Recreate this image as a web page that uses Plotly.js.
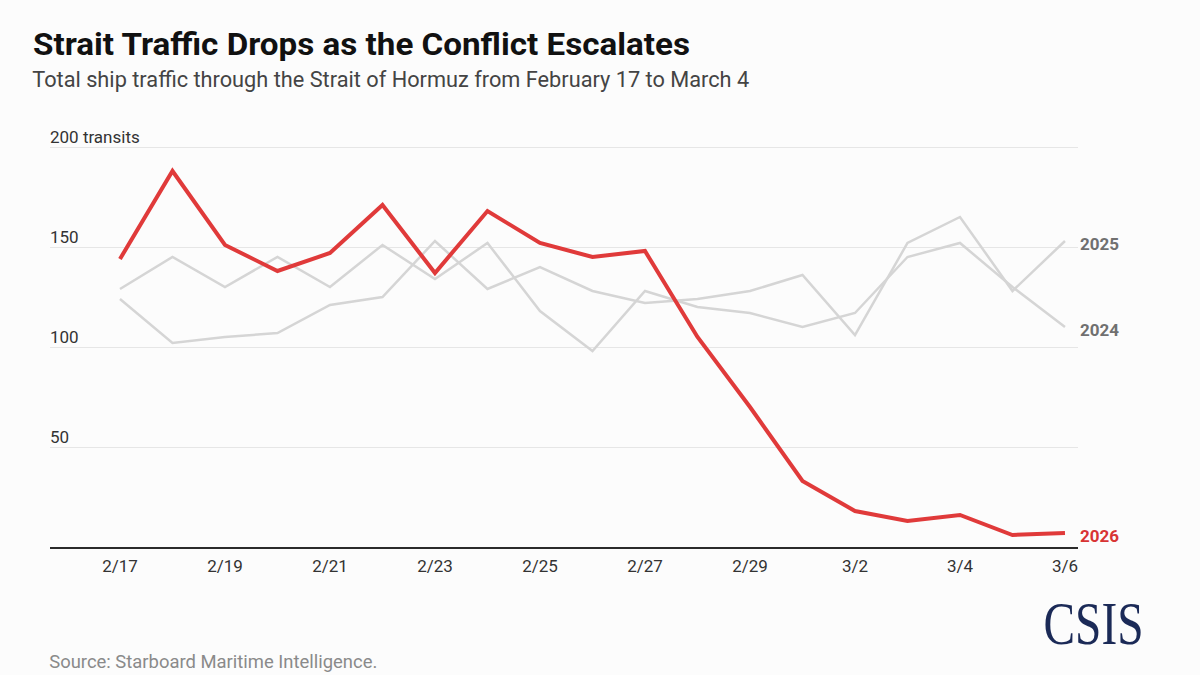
<!DOCTYPE html>
<html>
<head>
<meta charset="utf-8">
<script src="https://cdn.plot.ly/plotly-3.0.1.min.js"></script>
<style>
  html, body { margin: 0; padding: 0; background: #fcfcfc; }
  #chart { width: 1200px; height: 675px; }
</style>
</head>
<body>
<div id="chart"></div>
<script>
// Daily transits through the Strait of Hormuz, Feb 17 – Mar 6
const dates = ['2/17','2/18','2/19','2/20','2/21','2/22','2/23','2/24','2/25','2/26','2/27','2/28','2/29',
               '3/1','3/2','3/3','3/4','3/5','3/6'];
const tickDates = ['2/17','2/19','2/21','2/23','2/25','2/27','2/29','3/2','3/4','3/6'];
const transits2024 = [129, 145, 130, 145, 130, 151, 134, 152, 118, 98, 128, 120, 117, 110, 117, 145, 152, 130, 110];
const transits2025 = [124, 102, 105, 107, 121, 125, 153, 129, 140, 128, 122, 124, 128, 136, 106, 152, 165, 128, 153];
const transits2026 = [144, 188, 151, 138, 147, 171, 137, 168, 152, 145, 148, 105, 70, 33, 18, 13, 16, 6, 7];
const yTicks = [50, 100, 150, 200];
const yTickText = ['50', '100', '150', '200 transits'];

const RED = '#e03a3a';
const GREY = '#d5d5d5';
const SANS = 'Roboto, sans-serif';

const traces = [
  { x: dates, y: transits2024, name: '2024', type: 'scatter', mode: 'lines',
    line: { color: GREY, width: 2.5 }, hoverinfo: 'skip' },
  { x: dates, y: transits2025, name: '2025', type: 'scatter', mode: 'lines',
    line: { color: GREY, width: 2.5 }, hoverinfo: 'skip' },
  { x: dates, y: transits2026, name: '2026', type: 'scatter', mode: 'lines',
    line: { color: RED, width: 4 }, hoverinfo: 'skip' }
];

const last = dates[dates.length - 1];
function endLabel(txt, yVal, color) {
  return { x: last, y: yVal, xref: 'x', yref: 'y', text: '<b>' + txt + '</b>',
           showarrow: false, xanchor: 'left', yanchor: 'middle', xshift: 13, yshift: -3,
           font: { family: SANS, size: 17, color: color } };
}

// y-axis labels sit just above their gridlines, flush with the left edge
const yLabels = yTicks.map((v, i) => ({
  x: 0, y: v, xref: 'paper', yref: 'y', text: yTickText[i],
  showarrow: false, xanchor: 'left', yanchor: 'bottom', xshift: -2, yshift: -2,
  font: { family: SANS, size: 17, color: '#333333' }
}));

const layout = {
  width: 1200, height: 675,
  paper_bgcolor: '#fcfcfc', plot_bgcolor: '#fcfcfc',
  margin: { l: 50, r: 122, t: 127, b: 128 },
  showlegend: false,
  title: {
    text: '<b>Strait Traffic Drops as the Conflict Escalates</b>',
    x: 33 / 1200, xanchor: 'left', xref: 'container',
    y: 1 - 44 / 675, yanchor: 'middle', yref: 'container',
    font: { family: SANS, size: 31, color: '#111111' }
  },
  xaxis: {
    type: 'category',
    range: [-1.333, 18.248],
    tickmode: 'array', tickvals: tickDates, ticktext: tickDates,
    ticks: '', showgrid: false, zeroline: false,
    showline: true, linecolor: '#2b2b2b', linewidth: 1.5,
    ticklabelstandoff: 3,
    tickfont: { family: SANS, size: 17, color: '#333333' },
    fixedrange: true
  },
  yaxis: {
    range: [0, 210],
    tickmode: 'array', tickvals: yTicks,
    showticklabels: false,
    ticks: '', showgrid: true, gridcolor: '#e6e6e6', gridwidth: 1,
    zeroline: false, showline: false,
    fixedrange: true
  },
  annotations: [
    { xref: 'paper', yref: 'paper', x: (33 - 50) / 1028, y: (547.3 - 80) / 420,
      xanchor: 'left', yanchor: 'middle', showarrow: false, xshift: -7,
      text: 'Total ship traffic through the Strait of Hormuz from February 17 to March 4',
      font: { family: SANS, size: 22, color: '#444444' } },
    { xref: 'paper', yref: 'paper', x: 0, y: (547.3 - 662) / 420,
      xanchor: 'left', yanchor: 'middle', showarrow: false, xshift: 1,
      text: 'Source: Starboard Maritime Intelligence.',
      font: { family: SANS, size: 18, color: '#8a8a8a' } },
    { xref: 'paper', yref: 'paper', x: (1093 - 50) / 1028, y: (547.3 - 623) / 420,
      xanchor: 'center', yanchor: 'middle', showarrow: false,
      text: 'CSIS',
      font: { family: '"Liberation Serif", serif', size: 62, color: '#1b2a57' } },
    endLabel('2025', transits2025[transits2025.length - 1], '#707070'),
    endLabel('2024', transits2024[transits2024.length - 1], '#707070'),
    endLabel('2026', transits2026[transits2026.length - 1], '#d83434'),
    ...yLabels
  ]
};

// Fit a text element to a given width without changing its font size
function fitWidth(el, width) {
  if (!el) return;
  el.setAttribute('textLength', width);
  el.setAttribute('lengthAdjust', 'spacingAndGlyphs');
}

Plotly.newPlot('chart', traces, layout, { staticPlot: true, displayModeBar: false }).then(gd => {
  fitWidth(gd.querySelector('.gtitle'), 657);
  gd.querySelectorAll('.annotation-text').forEach(t => {
    const s = t.textContent;
    if (s.startsWith('Total ship traffic')) fitWidth(t, 717);
    else if (s.startsWith('Source:')) fitWidth(t, 328);
    else if (s === 'CSIS') fitWidth(t, 100);
  });
});
</script>
</body>
</html>
